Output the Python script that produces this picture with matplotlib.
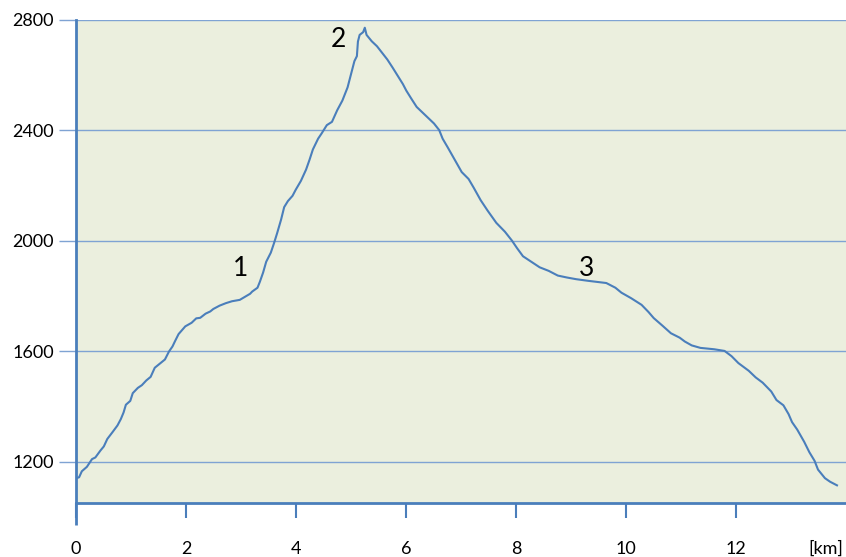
import numpy as np
import matplotlib.pyplot as plt

plt.rcParams['font.family'] = ['Lato', 'DejaVu Sans']

# distance along the route [km] and elevation [m]
km = [0.000, 0.056, 0.106, 0.198, 0.291, 0.352, 0.444, 0.506, 0.569, 0.661,
      0.754, 0.815, 0.865, 0.907, 0.987, 1.032, 1.124, 1.198, 1.278, 1.357,
      1.432, 1.524, 1.617, 1.691, 1.754, 1.802, 1.865, 1.987, 2.102, 2.186,
      2.259, 2.356, 2.441, 2.497, 2.610, 2.724, 2.836, 2.978, 3.063, 3.165,
      3.203, 3.300, 3.344, 3.402, 3.458, 3.542, 3.598, 3.656, 3.729, 3.785,
      3.853, 3.937, 3.995, 4.089, 4.183, 4.245, 4.307, 4.402, 4.466, 4.560,
      4.654, 4.749, 4.843, 4.938, 5.000, 5.062, 5.107, 5.126, 5.157, 5.221,
      5.251, 5.283, 5.377, 5.472, 5.566, 5.660, 5.755, 5.849, 5.943, 6.006,
      6.100, 6.194, 6.289, 6.383, 6.509, 6.604, 6.666, 6.760, 6.887, 7.013,
      7.138, 7.232, 7.358, 7.485, 7.642, 7.798, 7.925, 8.017, 8.127, 8.264,
      8.430, 8.595, 8.760, 8.926, 9.091, 9.311, 9.642, 9.807, 9.917, 10.094,
      10.283, 10.409, 10.504, 10.660, 10.817, 10.976, 11.070, 11.195, 11.353, 11.604,
      11.792, 11.919, 12.043, 12.232, 12.358, 12.485, 12.641, 12.736, 12.862, 12.956,
      13.019, 13.113, 13.239, 13.334, 13.428, 13.491, 13.617, 13.711, 13.836]
elev = [1140, 1143, 1165, 1181, 1209, 1215, 1240, 1255, 1282, 1306,
        1331, 1354, 1378, 1406, 1420, 1448, 1467, 1477, 1494, 1507,
        1540, 1555, 1570, 1599, 1617, 1637, 1662, 1690, 1703, 1719,
        1721, 1736, 1744, 1753, 1765, 1774, 1781, 1786, 1796, 1808,
        1816, 1830, 1852, 1885, 1924, 1957, 1990, 2027, 2077, 2122,
        2144, 2163, 2185, 2217, 2258, 2293, 2331, 2370, 2389, 2419,
        2431, 2473, 2508, 2556, 2604, 2651, 2669, 2722, 2746, 2756,
        2772, 2746, 2723, 2705, 2681, 2657, 2628, 2598, 2568, 2544,
        2514, 2485, 2467, 2449, 2425, 2401, 2370, 2338, 2293, 2249,
        2224, 2192, 2147, 2109, 2065, 2033, 2001, 1974, 1944, 1926,
        1904, 1891, 1874, 1867, 1861, 1855, 1847, 1830, 1812, 1792,
        1768, 1742, 1720, 1693, 1665, 1649, 1635, 1621, 1612, 1607,
        1601, 1582, 1557, 1529, 1505, 1486, 1454, 1423, 1404, 1372,
        1343, 1316, 1272, 1234, 1203, 1171, 1140, 1127, 1114]

x_ticks = [0, 2, 4, 6, 8, 10, 12]
y_ticks = [1200, 1600, 2000, 2400, 2800]

# labelled points on the profile
marks = ['1', '2', '3']
mark_km = [3.0, 4.77, 9.29]
mark_elev = [1901, 2729, 1901]

blue = '#4a7ebb'
grid_c = '#7f a3d3'.replace(' ', '')

fig = plt.figure(figsize=(8.46, 5.57), dpi=100)
ax = fig.add_axes([76 / 846, 1 - 503 / 557, 1 - 76 / 846, 483 / 557])
ax.set_facecolor('#ebefde')

ax.plot(km, elev, color=blue, lw=1.5, zorder=3)

for t, xm, ym in zip(marks, mark_km, mark_elev):
    ax.text(xm, ym, t, fontsize=19, ha='center', va='center', zorder=4)

ax.set_xlim(0, 14.0)
ax.set_ylim(1050, 2800)
ax.set_xticks(x_ticks)
ax.set_yticks(y_ticks)
ax.grid(axis='y', color=grid_c, lw=1.0)
ax.set_axisbelow(True)

for s in ['top', 'right']:
    ax.spines[s].set_visible(False)
ax.spines['left'].set_color(blue)
ax.spines['left'].set_linewidth(2)
ax.spines['bottom'].set_color(blue)
ax.spines['bottom'].set_linewidth(2)
# y axis line runs a bit below the x axis
ax.plot([0, 0], [0, -22 / 483], transform=ax.transAxes, color=blue,
        lw=2, clip_on=False, solid_capstyle='butt')

ax.tick_params(axis='x', direction='out', length=11, width=1.5, color=blue,
               labelsize=13, pad=16)
ax.tick_params(axis='y', direction='out', length=12, width=1.0, color=grid_c,
               labelsize=13, pad=4)

fig.text(826 / 846, 1 - 549 / 557, '[km]', fontsize=13, ha='center', va='center')

fig.savefig('out.png', dpi=100)
